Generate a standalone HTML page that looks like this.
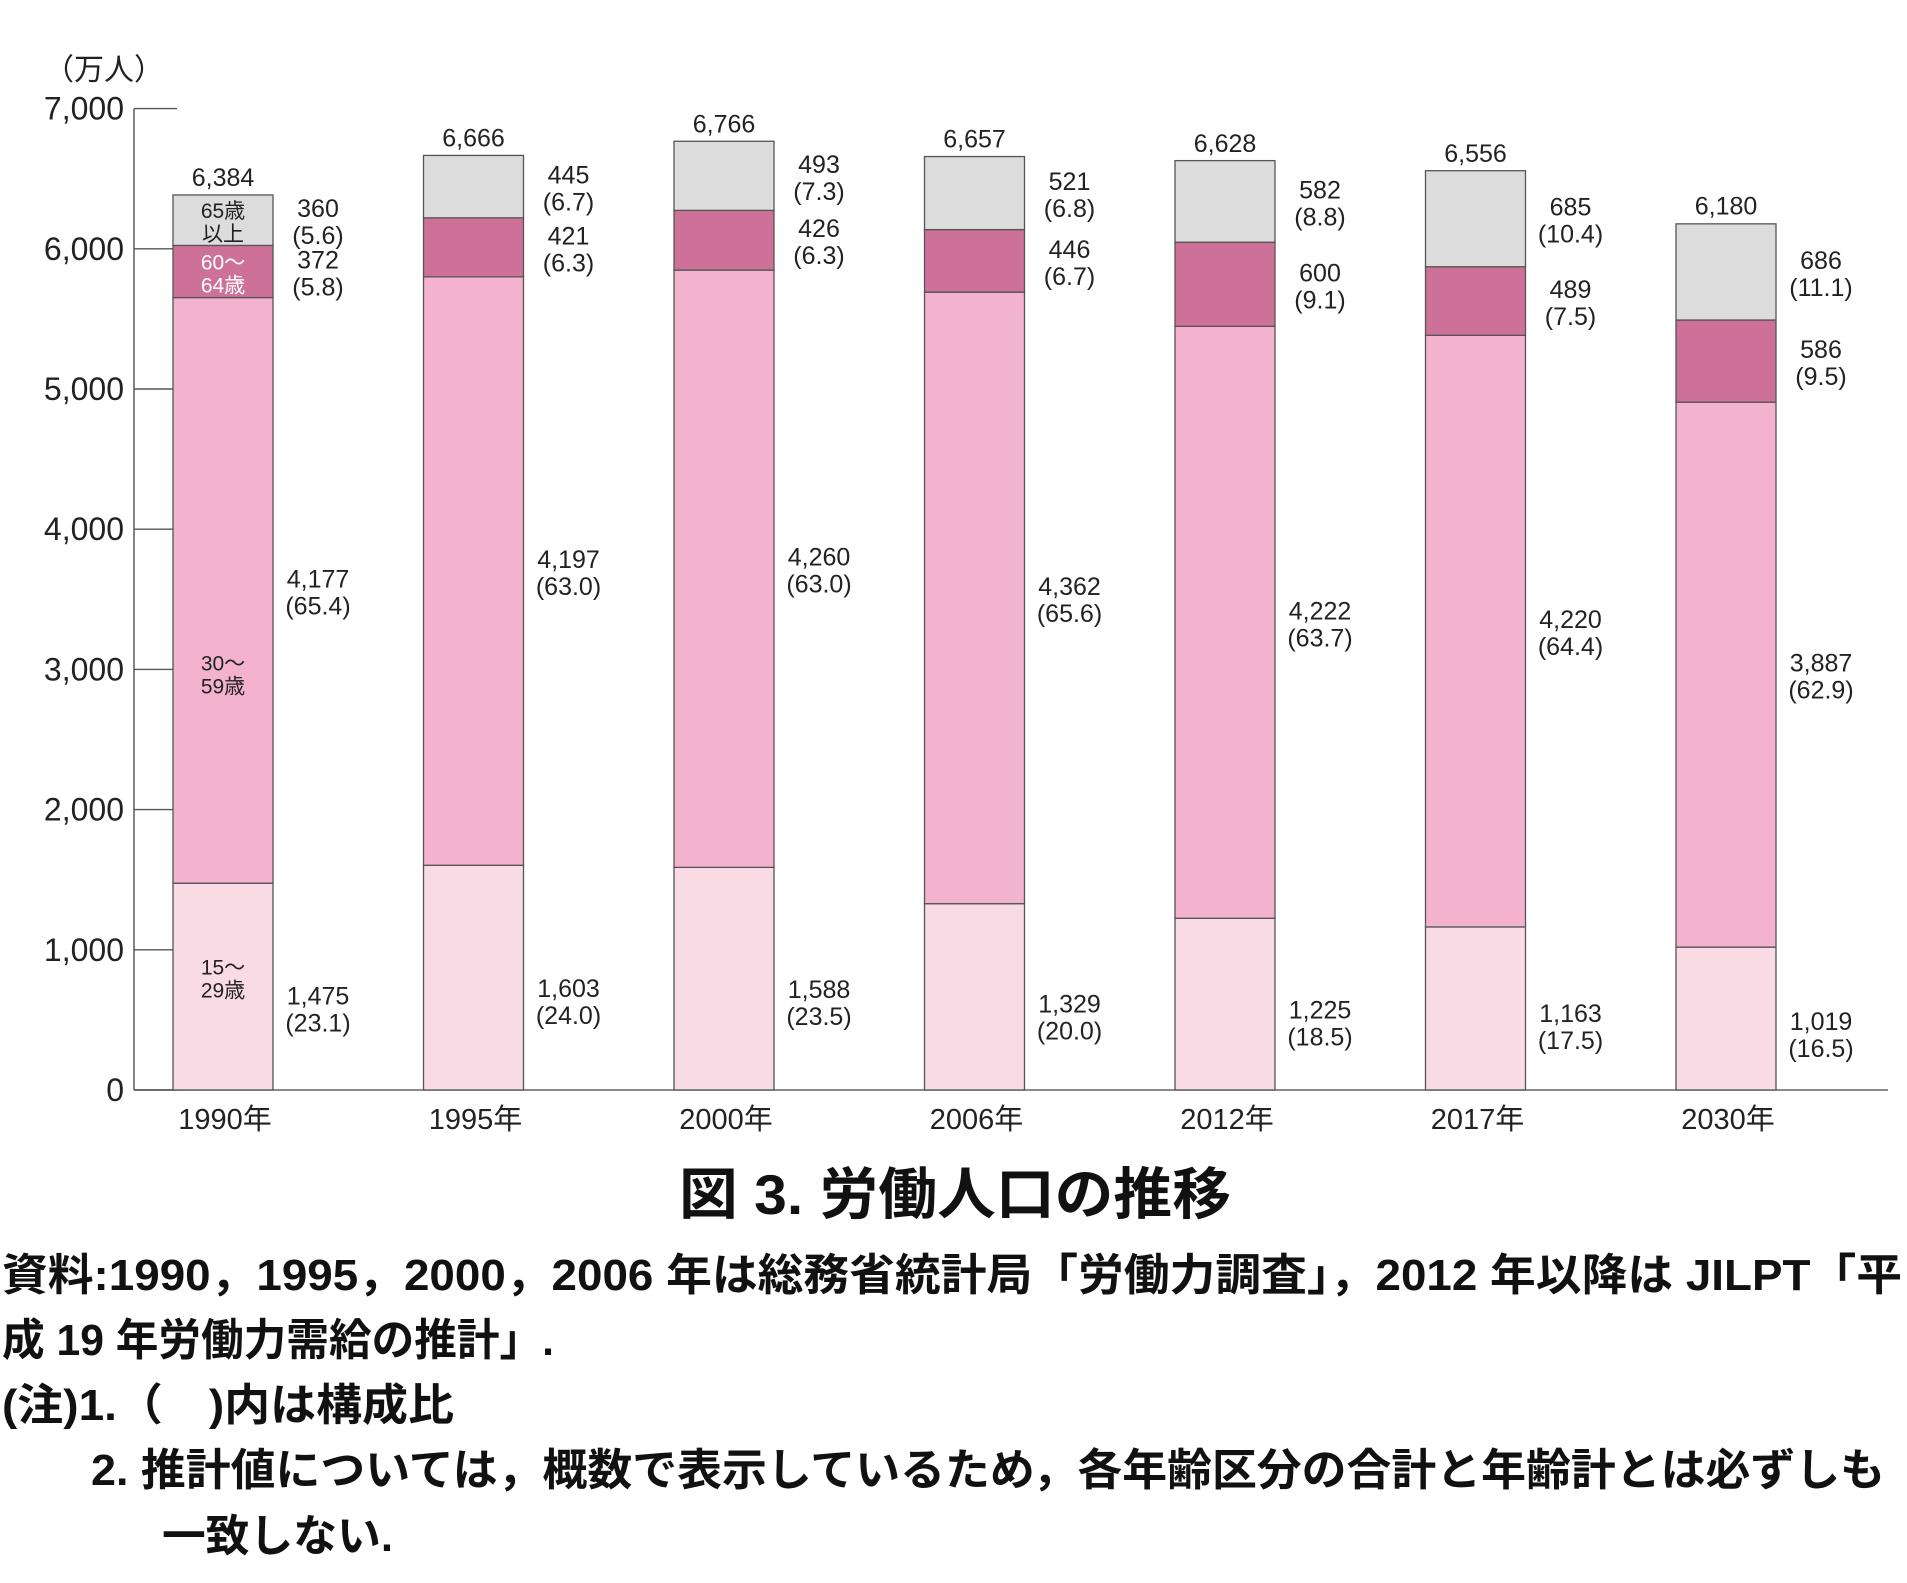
<!DOCTYPE html>
<html><head><meta charset="utf-8">
<style>
html,body{margin:0;padding:0;background:#fff;}
svg{display:block;font-family:"Liberation Sans","Noto Sans CJK JP",sans-serif;}
</style></head>
<body>
<svg id="chart" width="1907" height="1583" viewBox="0 0 1907 1583" xmlns="http://www.w3.org/2000/svg">
<g id="axes"></g>
<g id="bars"></g>
<g id="labels"></g>
<text x="44" y="80" font-size="30" fill="#222">（万人）</text>
<text x="955" y="1214" font-size="56" font-weight="bold" text-anchor="middle" fill="#111" textLength="552" lengthAdjust="spacingAndGlyphs">図 3.  労働人口の推移</text>
<text x="2" y="1290" font-size="44" font-weight="bold" fill="#111" textLength="1900" lengthAdjust="spacingAndGlyphs">資料:1990，1995，2000，2006 年は総務省統計局「労働力調査」，2012 年以降は JILPT「平</text>
<text x="2" y="1355" font-size="44" font-weight="bold" fill="#111" textLength="552" lengthAdjust="spacingAndGlyphs">成 19 年労働力需給の推計」.</text>
<text x="2" y="1420" font-size="44" font-weight="bold" fill="#111" textLength="452" lengthAdjust="spacingAndGlyphs">(注)1.（　)内は構成比</text>
<text x="91" y="1485" font-size="44" font-weight="bold" fill="#111" textLength="1794" lengthAdjust="spacingAndGlyphs">2.  推計値については，概数で表示しているため，各年齢区分の合計と年齢計とは必ずしも</text>
<text x="162" y="1551" font-size="44" font-weight="bold" fill="#111" textLength="231" lengthAdjust="spacingAndGlyphs">一致しない.</text>
</svg>
<script>
const categories = ["1990年","1995年","2000年","2006年","2012年","2017年","2030年"];
const age15to29 = [1475,1603,1588,1329,1225,1163,1019];
const age30to59 = [4177,4197,4260,4362,4222,4220,3887];
const age60to64 = [372,421,426,446,600,489,586];
const age65plus = [360,445,493,521,582,685,686];
const pct15to29 = ["23.1","24.0","23.5","20.0","18.5","17.5","16.5"];
const pct30to59 = ["65.4","63.0","63.0","65.6","63.7","64.4","62.9"];
const pct60to64 = ["5.8","6.3","6.3","6.7","9.1","7.5","9.5"];
const pct65plus = ["5.6","6.7","7.3","6.8","8.8","10.4","11.1"];
const totals = [6384,6666,6766,6657,6628,6556,6180];
const yTicks = [0,1000,2000,3000,4000,5000,6000,7000];

const NS="http://www.w3.org/2000/svg";
const X0=173, STEP=250.5, BW=100;
const Y0=1090, PX=0.1402;
const y=v=>Y0-v*PX;
const xb=i=>X0+i*STEP;
const fmt=n=>n.toLocaleString("en-US");
function mk(tag,attrs,parent,txt){const e=document.createElementNS(NS,tag);for(const k in attrs)e.setAttribute(k,attrs[k]);if(txt!==undefined)e.textContent=txt;parent.appendChild(e);return e;}
const axes=document.getElementById("axes"),bars=document.getElementById("bars"),labels=document.getElementById("labels");

// axes
let a=mk("line",{x1:134,y1:y(7000),x2:134,y2:Y0,stroke:"#666","stroke-width":1.6},axes);


a=mk("line",{x1:134,y1:Y0,x2:1888,y2:Y0,stroke:"#666","stroke-width":1.6},axes);


yTicks.forEach(t=>{
  const tk=mk("line",{x1:134,y1:y(t),x2:177,y2:y(t),stroke:"#555","stroke-width":1.4},axes);
  
  
  const tl=mk("text",{x:124,y:y(t)+11,"font-size":32,"text-anchor":"end",fill:"#222"},axes,fmt(t));
  
  
});

const series=[
 {vals:age15to29,pct:pct15to29,fill:"#f9dbe6",name:"age-15-29"},
 {vals:age30to59,pct:pct30to59,fill:"#f3b3cf",name:"age-30-59"},
 {vals:age60to64,pct:pct60to64,fill:"#cd7199",name:"age-60-64"},
 {vals:age65plus,pct:pct65plus,fill:"#dcdcdc",name:"age-65-plus"}
];
categories.forEach((c,i)=>{
  let base=0;
  series.forEach((s,si)=>{
    const v=s.vals[i];
    const r=mk("rect",{x:xb(i),y:y(base+v),width:BW,height:v*PX,fill:s.fill,stroke:"#555","stroke-width":1.3},bars);
    
    
    const cv = si===0 ? base+v*0.4 : base+v/2;
    const cy=y(cv);
    const lx=xb(i)+BW+45;
    const t1=mk("text",{x:lx,y:cy-3,"font-size":25,"text-anchor":"middle",fill:"#222"},labels,fmt(v));
    
    
    const t2=mk("text",{x:lx,y:cy+24,"font-size":25,"text-anchor":"middle",fill:"#222"},labels,"("+s.pct[i]+")");
    
    
    base+=v;
  });
  const tt=mk("text",{x:xb(i)+BW/2,y:y(totals[i])-9,"font-size":25,"text-anchor":"middle",fill:"#222"},labels,fmt(totals[i]));
  
  
  const xl=mk("text",{x:xb(i)+BW/2+2,y:Y0+39,"font-size":29,"text-anchor":"middle",fill:"#222"},labels,c);
  
  
});

// in-bar category names (first bar)
const inb=[["65歳","以上",age15to29[0]+age30to59[0]+age60to64[0]+age65plus[0]/2,"#222"],
 ["60～","64歳",age15to29[0]+age30to59[0]+age60to64[0]/2,"#fff"],
 ["30～","59歳",age15to29[0]+age30to59[0]*0.36,"#222"],
 ["15～","29歳",age15to29[0]*0.55,"#222"]];
inb.forEach(b=>{
  const cy=y(b[2]);
  const t=mk("text",{x:xb(0)+BW/2,y:cy-2,"font-size":21,"text-anchor":"middle",fill:b[3]},labels,b[0]);
  
  
  const t2=mk("text",{x:xb(0)+BW/2,y:cy+21,"font-size":21,"text-anchor":"middle",fill:b[3]},labels,b[1]);
  
  
});
</script>
</body></html>
